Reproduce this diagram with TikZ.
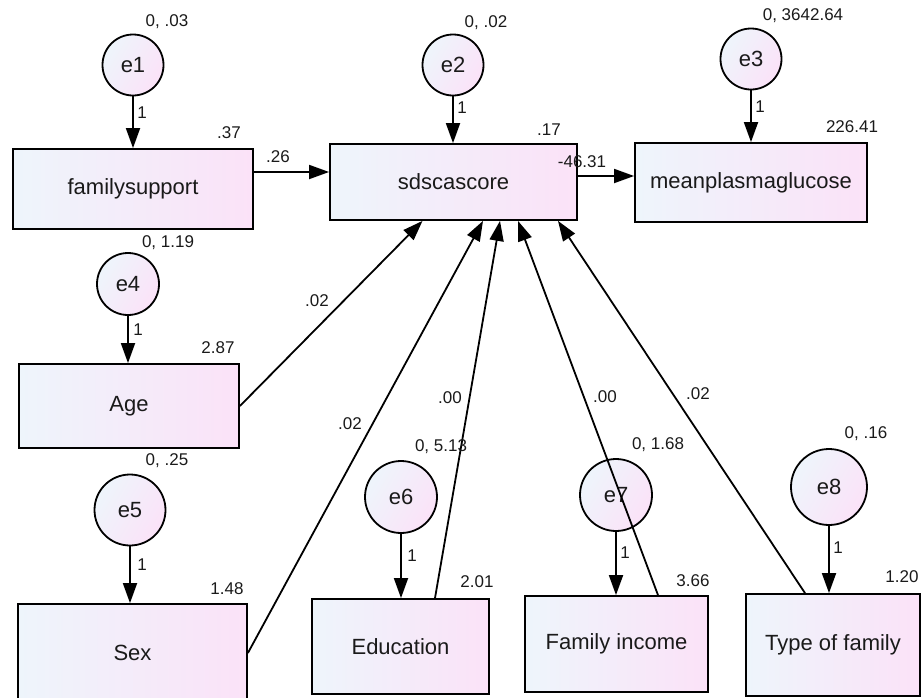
\documentclass[tikz,border=0pt]{standalone}
\usepackage{fontspec}
\setmainfont{Liberation Sans}
\usepackage{xcolor}
\usetikzlibrary{arrows.meta}
\definecolor{boxL}{HTML}{EEF5FB}
\definecolor{boxR}{HTML}{FBE2F8}
\definecolor{ink}{HTML}{1A1A1A}
\tikzset{
	obs/.style={draw, line width=1.8pt, left color=boxL, right color=boxR, text=ink, font=\fontsize{22}{25}\selectfont, inner sep=0pt},
	err/.style={circle, draw, line width=1.8pt, left color=boxL, right color=boxR, shading angle=60, text=ink, font=\fontsize{22}{25}\selectfont, inner sep=0pt},
	reg/.style={-{Triangle[length=20pt,width=14pt]}, line width=1.8pt},
	est/.style={text=ink, font=\fontsize{17}{20}\selectfont, inner sep=0pt}
}

\begin{document}
\begin{tikzpicture}[x=1pt,y=-1pt]
			\useasboundingbox (0,0) rectangle (921,697);
			
			\node [obs, minimum width=240, minimum height=80] (fam) at (133,189) {familysupport};
			\node [obs, minimum width=247, minimum height=76] (sds) at (453.5,182) {sdscascore};
			\node [obs, minimum width=232, minimum height=79] (mpg) at (751,182.5) {meanplasmaglucose};
			\node [obs, minimum width=220, minimum height=84] (age) at (129,406) {Age};
			\node [obs, minimum width=229, minimum height=98] (sex) at (132.5,653) {Sex};
			\node [obs, minimum width=177, minimum height=95] (edu) at (400.5,646.5) {Education};
			\node [obs, minimum width=183, minimum height=96] (inc) at (616.5,644) {Family income};
			\node [obs, minimum width=174, minimum height=102] (tof) at (833,645) {Type of family};
			
			\node [err, minimum size=61] (e1) at (133,65) {e1};
			\node [err, minimum size=61] (e2) at (453,65) {e2};
			\node [err, minimum size=61] (e3) at (751,59) {e3};
			\node [err, minimum size=62] (e4) at (128,284) {e4};
			\node [err, minimum size=71] (e5) at (130,510) {e5};
			\node [err, minimum size=72] (e6) at (401,497) {e6};
			\node [err, minimum size=72] (e7) at (616,495) {e7};
			\node [err, minimum size=76] (e8) at (829,487) {e8};
			
			% error terms
			\draw [reg] (e1) -- (e1 |- fam.north);
			\draw [reg] (e2) -- (e2 |- sds.north);
			\draw [reg] (e3) -- (e3 |- mpg.north);
			\draw [reg] (e4) -- (e4 |- age.north);
			\draw [reg] (e5) -- (e5 |- sex.north);
			\draw [reg] (e6) -- (e6 |- edu.north);
			\draw [reg] (e7) -- (e7 |- inc.north);
			\draw [reg] (e8) -- (e8 |- tof.north);
			
			% paths
			\draw [reg] ([yshift=17pt]fam.east) coordinate (fs) -- (sds.west |- fs);
			\draw [reg] ([yshift=6pt]sds.east) coordinate (sm) -- (mpg.west |- sm);
			\draw [reg] (age.east) -- ([xshift=-31pt]sds.south);
			\draw [reg] (sex.east) -- ([xshift=29.5pt]sds.south);
			\draw [reg] ([xshift=34.5pt]edu.north) -- ([xshift=46.5pt]sds.south);
			\draw [reg] ([xshift=41.5pt]inc.north) -- ([xshift=64.5pt]sds.south);
			\draw [reg] ([xshift=-28pt]tof.north) -- ([xshift=104.5pt]sds.south);
			
			\node [est] (v1) at (167,22) {0, .03};
			\node [est] (v2) at (486,23) {0, .02};
			\node [est] (v3) at (803,16) {0, 3642.64};
			\node [est] (v4) at (168,243) {0, 1.19};
			\node [est] (v5) at (167,461) {0, .25};
			\node [est] (v6) at (441,447) {0, 5.13};
			\node [est] (v7) at (658,445) {0, 1.68};
			\node [est] (v8) at (866,434) {0, .16};
			
			\node [est] (w1) at (142,113) {1};
			\node [est] (w2) at (462,108) {1};
			\node [est] (w3) at (760,107) {1};
			\node [est] (w4) at (138,330) {1};
			\node [est] (w5) at (142,565) {1};
			\node [est] (w6) at (412,556) {1};
			\node [est] (w7) at (625,553) {1};
			\node [est] (w8) at (838,548) {1};
			
			\node [est] (i1) at (229,133) {.37};
			\node [est] (i2) at (549,130) {.17};
			\node [est] (i3) at (852,127) {226.41};
			\node [est] (i4) at (218,348) {2.87};
			\node [est] (i5) at (227,589) {1.48};
			\node [est] (i6) at (477,582) {2.01};
			\node [est] (i7) at (693,581) {3.66};
			\node [est] (i8) at (902,577) {1.20};
			
			\node [est] (b1) at (278,157) {.26};
			\node [est] (b2) at (582,162) {-46.31};
			\node [est] (b3) at (317,301) {.02};
			\node [est] (b4) at (350,424) {.02};
			\node [est] (b5) at (450,398) {.00};
			\node [est] (b6) at (605,397) {.00};
			\node [est] (b7) at (698,394) {.02};
		\end{tikzpicture}
\end{document}
